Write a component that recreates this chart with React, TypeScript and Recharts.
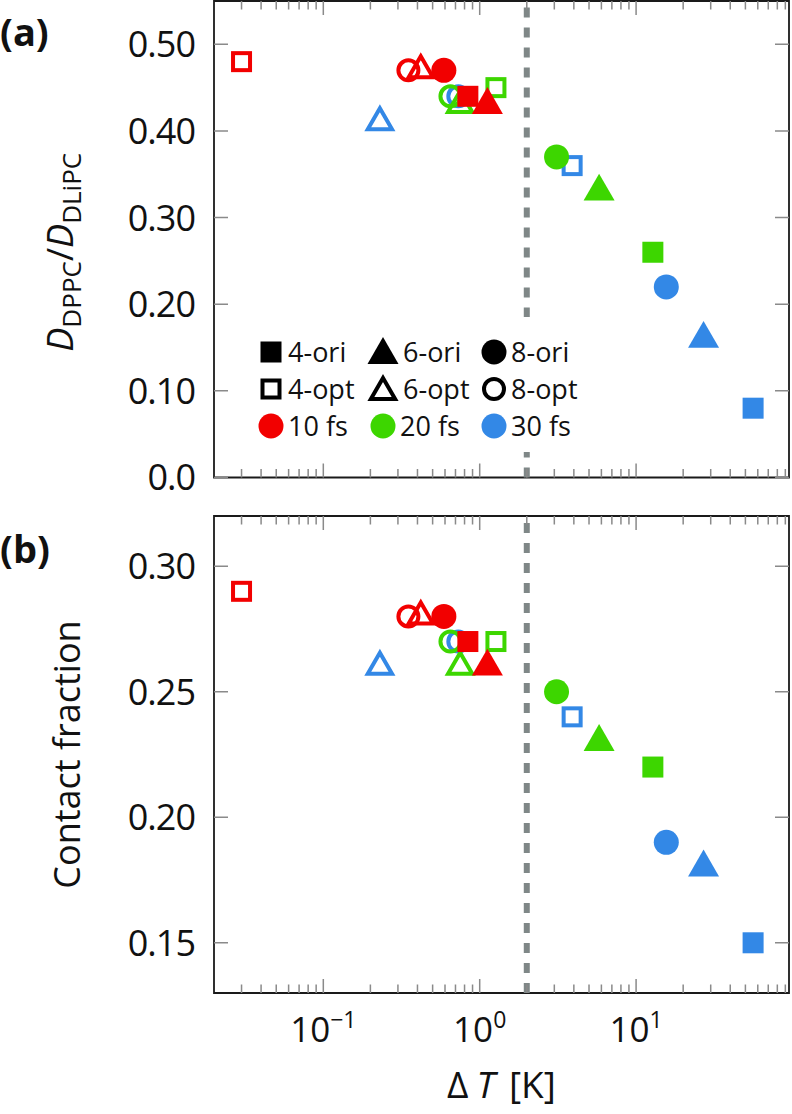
import React from "react";
import {
  ScatterChart,
  Scatter,
  XAxis,
  YAxis,
  ReferenceArea,
  ReferenceLine,
} from "recharts";

/* ── palette ── */
const RED = "#f20000";
const GREEN = "#3dd600";
const BLUE = "#3388e6";
const GREY = "#7f8787";
const TICK = "#8a8a8a";
const FONT = "'Open Sans', 'DejaVu Sans', sans-serif";

/* ── data ── */
const variants = ["4-ori", "4-opt", "6-ori", "6-opt", "8-ori", "8-opt"];
const timesteps = ["10 fs", "20 fs", "30 fs"];

// ΔT [K] per variant
const dT10 = [0.84, 0.03, 1.12, 0.42, 0.59, 0.35];
const dT20 = [12.8, 1.27, 5.8, 0.75, 3.1, 0.65];
const dT30 = [56, 3.9, 27, 0.23, 15.6, 0.73];

// D_DPPC / D_DLiPC
const ratio10 = [0.44, 0.48, 0.43, 0.47, 0.47, 0.47];
const ratio20 = [0.26, 0.45, 0.33, 0.43, 0.37, 0.44];
const ratio30 = [0.08, 0.36, 0.16, 0.41, 0.22, 0.44];

// contact fraction
const contact10 = [0.27, 0.29, 0.26, 0.28, 0.28, 0.28];
const contact20 = [0.22, 0.27, 0.23, 0.26, 0.25, 0.27];
const contact30 = [0.15, 0.24, 0.18, 0.26, 0.19, 0.27];

// axes
const xDomain = [0.02, 95];
const xMajor = [0.1, 1, 10];
const xMajorLabels = ["−1", "0", "1"];
const xTicks = [
  0.03, 0.04, 0.05, 0.06, 0.07, 0.08, 0.09, 0.1,
  0.2, 0.3, 0.4, 0.5, 0.6, 0.7, 0.8, 0.9, 1,
  2, 3, 4, 5, 6, 7, 8, 9, 10,
  20, 30, 40, 50, 60, 70, 80, 90,
];
const ratioDomain = [0, 0.55];
const ratioTicks = [0, 0.1, 0.2, 0.3, 0.4, 0.5];
const ratioTickLabels = ["0.0", "0.10", "0.20", "0.30", "0.40", "0.50"];
const contactDomain = [0.13, 0.32];
const contactTicks = [0.15, 0.2, 0.25, 0.3];
const contactTickLabels = ["0.15", "0.20", "0.25", "0.30"];
const dividerX = 2;

/* ── layout ── */
const W = 792;
const PLOT_LEFT = 214;
const PLOT_RIGHT = 789;
const TOP_A = 1;
const TOP_B = 11;

const colorOf = [RED, GREEN, BLUE];
const kindOf = (v: string) =>
  v.startsWith("4") ? "square" : v.startsWith("6") ? "triangle" : "circle";

/* ── marker ── */
const Marker = ({ cx, cy, kind, open, color }: any) => {
  if (cx == null || cy == null) return null;
  if (kind === "square") {
    return open ? (
      <rect x={cx - 8.5} y={cy - 8.5} width={17} height={17} fill="none" stroke={color} strokeWidth={4} />
    ) : (
      <rect x={cx - 10.5} y={cy - 10.5} width={21} height={21} fill={color} />
    );
  }
  if (kind === "circle") {
    return open ? (
      <circle cx={cx} cy={cy} r={10} fill="none" stroke={color} strokeWidth={4} />
    ) : (
      <circle cx={cx} cy={cy} r={12.5} fill={color} />
    );
  }
  const R = open ? 14 : 17.9;
  const h = (R * Math.sqrt(3)) / 2;
  const pts = `${cx},${cy - R} ${cx - h},${cy + R / 2} ${cx + h},${cy + R / 2}`;
  return open ? (
    <polygon points={pts} fill="none" stroke={color} strokeWidth={4} strokeLinejoin="miter" />
  ) : (
    <polygon points={pts} fill={color} />
  );
};

/* ── ticks ── */
const makeXTick = (plotTop: number, labels: boolean) => (props: any) => {
  const { x, y, payload } = props;
  const v = payload.value;
  const mi = xMajor.indexOf(v);
  const len = mi >= 0 ? 14 : 8.5;
  return (
    <g>
      <path d={`M${x},${y}V${y - len}M${x},${plotTop}V${plotTop + len}`} stroke={TICK} strokeWidth={1.5} fill="none" />
      {labels && mi >= 0 && (
        <text x={x} y={y + 49} textAnchor="middle" fontSize={35} fontFamily={FONT} fill="#111">
          10
          <tspan dy={-14} fontSize={23}>
            {xMajorLabels[mi]}
          </tspan>
        </text>
      )}
    </g>
  );
};

const makeYTick = (ticks: number[], labels: string[]) => (props: any) => {
  const { x, y, payload } = props;
  const i = ticks.indexOf(payload.value);
  return (
    <g>
      <path d={`M${x},${y}H${x + 14}M${PLOT_RIGHT - 14},${y}H${PLOT_RIGHT}`} stroke={TICK} strokeWidth={1.5} fill="none" />
      <text x={x - 19} y={y} dy="0.36em" textAnchor="end" fontSize={36} fontFamily={FONT} fill="#111" letterSpacing={-1}>
        {labels[i]}
      </text>
    </g>
  );
};

/* ── series ── */
const buildSeries = (vals: number[][]) => {
  const dts = [dT10, dT20, dT30];
  const out: any[] = [];
  // 30 fs first, 10 fs drawn last (on top)
  [2, 1, 0].forEach((t) => {
    variants.forEach((v, i) => {
      out.push({
        key: `${timesteps[t]}-${v}`,
        color: colorOf[t],
        kind: kindOf(v),
        open: v.endsWith("opt"),
        data: [{ x: dts[t][i], y: vals[t][i] }],
      });
    });
  });
  return out;
};

const seriesA = buildSeries([ratio10, ratio20, ratio30]);
const seriesB = buildSeries([contact10, contact20, contact30]);

const Panel = ({ height, top, xAxisHeight, yDomain, yTicks, yLabels, series, xLabels, yTitle }: any) => (
  <ScatterChart width={W} height={height} margin={{ top, right: W - PLOT_RIGHT, bottom: 0, left: 0 }}>
    <ReferenceArea
      x1={xDomain[0]}
      x2={xDomain[1]}
      y1={yDomain[0]}
      y2={yDomain[1]}
      fill="none"
      fillOpacity={0}
      stroke="#1a1a1a"
      strokeWidth={1.8}
    />
    <ReferenceLine x={dividerX} stroke={GREY} strokeWidth={6} strokeDasharray="10 10" />
    <XAxis
      type="number"
      dataKey="x"
      scale="log"
      domain={xDomain}
      allowDataOverflow
      ticks={xTicks}
      interval={0}
      tickSize={0}
      tickMargin={0}
      tickLine={false}
      axisLine={false}
      height={xAxisHeight}
      tick={makeXTick(top, xLabels)}
      label={
        xLabels
          ? {
              content: ({ viewBox }: any) => (
                <text
                  x={viewBox.x + viewBox.width / 2}
                  y={viewBox.y + 105}
                  textAnchor="middle"
                  fontSize={37}
                  fontFamily={FONT}
                  fill="#111"
                >
                  <tspan>Δ</tspan>
                  <tspan dx={8} fontStyle="italic">T</tspan>
                  <tspan dx={14}>[K]</tspan>
                </text>
              ),
            }
          : undefined
      }
    />
    <YAxis
      type="number"
      dataKey="y"
      domain={yDomain}
      allowDataOverflow
      ticks={yTicks}
      interval={0}
      tickSize={0}
      tickMargin={0}
      tickLine={false}
      axisLine={false}
      width={PLOT_LEFT}
      tick={makeYTick(yTicks, yLabels)}
      label={{ content: ({ viewBox }: any) => yTitle(viewBox.y + viewBox.height / 2) }}
    />
    {series.map((s: any) => (
      <Scatter
        key={s.key}
        data={s.data}
        isAnimationActive={false}
        shape={(p: any) => <Marker cx={p.cx} cy={p.cy} kind={s.kind} open={s.open} color={s.color} />}
      />
    ))}
  </ScatterChart>
);

const titleA = (cy: number) => (
  <text transform={`translate(73, ${cy + 13}) rotate(-90)`} textAnchor="middle" fontSize={36} fontFamily={FONT} fill="#111">
    <tspan fontStyle="italic">D</tspan>
    <tspan fontSize={26} dy={8}>DPPC</tspan>
    <tspan dy={-8}>/</tspan>
    <tspan fontStyle="italic">D</tspan>
    <tspan fontSize={26} dy={8}>DLiPC</tspan>
  </text>
);

const titleB = (cy: number) => (
  <text transform={`translate(80, ${cy}) rotate(-90)`} textAnchor="middle" fontSize={36} fontFamily={FONT} fill="#111">
    Contact fraction
  </text>
);

/* ── legend ── */
const legendRows = [
  { y: 352, items: variants.filter((v) => v.endsWith("ori")).map((v) => ({ label: v, kind: kindOf(v), open: false, color: "#000" })) },
  { y: 389, items: variants.filter((v) => v.endsWith("opt")).map((v) => ({ label: v, kind: kindOf(v), open: true, color: "#000" })) },
  { y: 426, items: timesteps.map((t, i) => ({ label: t, kind: "circle", open: false, color: colorOf[i] })) },
];
const legendCols = [271, 383, 494];

const Overlay = () => (
  <svg width={W} height={1114} style={{ position: "absolute", left: 0, top: 0, pointerEvents: "none" }}>
    <text x={0} y={46} fontSize={38} fontWeight="bold" fontFamily={FONT} fill="#111">(a)</text>
    <text x={0} y={563} fontSize={38} fontWeight="bold" fontFamily={FONT} fill="#111">(b)</text>
    <rect x={252} y={317} width={333} height={135} fill="#fff" />
    {legendRows.map((row) =>
      row.items.map((it, j) => (
        <g key={`${row.y}-${j}`}>
          <Marker cx={legendCols[j]} cy={it.kind === "triangle" ? row.y + 3 : row.y} kind={it.kind} open={it.open} color={it.color} />
          <text
            x={legendCols[j] + (it.kind === "triangle" ? 20 : 17)}
            y={row.y}
            dy="0.36em"
            fontSize={27}
            fontFamily={FONT}
            fill="#111"
          >
            {it.label}
          </text>
        </g>
      ))
    )}
  </svg>
);

export default function App() {
  return (
    <div style={{ position: "absolute", left: 0, top: 0, width: W, height: 1114, background: "#fff" }}>
      <div style={{ position: "absolute", left: 0, top: 0 }}>
        <Panel
          height={505}
          top={TOP_A}
          xAxisHeight={27.5}
          yDomain={ratioDomain}
          yTicks={ratioTicks}
          yLabels={ratioTickLabels}
          series={seriesA}
          xLabels={false}
          yTitle={titleA}
        />
      </div>
      <div style={{ position: "absolute", left: 0, top: 505 }}>
        <Panel
          height={609}
          top={TOP_B}
          xAxisHeight={121}
          yDomain={contactDomain}
          yTicks={contactTicks}
          yLabels={contactTickLabels}
          series={seriesB}
          xLabels={true}
          yTitle={titleB}
        />
      </div>
      <Overlay />
    </div>
  );
}
